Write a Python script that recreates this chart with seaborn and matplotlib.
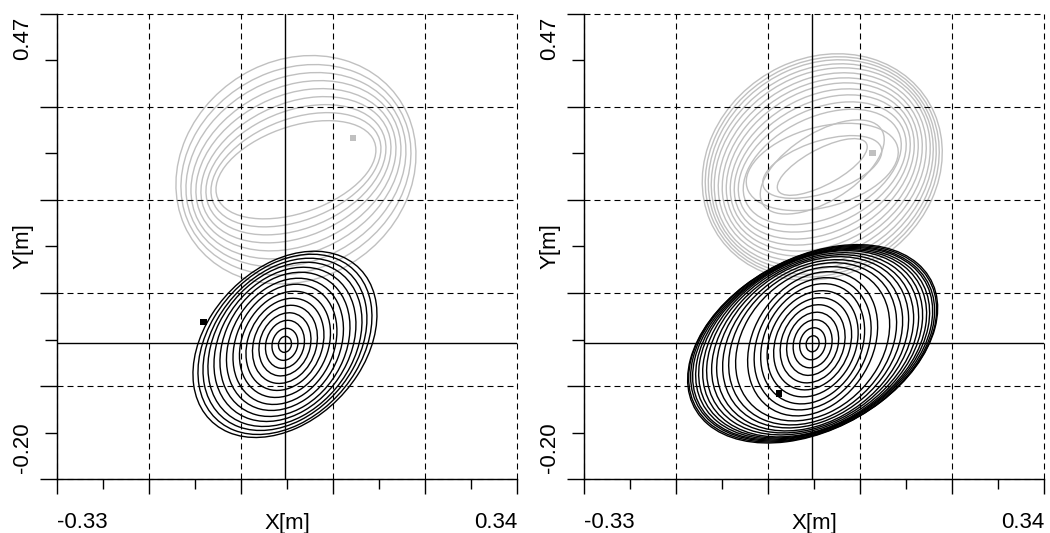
import numpy as np
import pandas as pd
import matplotlib
matplotlib.use("Agg")
import matplotlib.pyplot as plt
from matplotlib.patches import Ellipse
from matplotlib.transforms import ScaledTranslation
import seaborn as sns

# Axis ranges / ticks
X_MAJOR = [-0.33, -0.196, -0.062, 0.072, 0.206, 0.34]
X_MINOR = [-0.263, -0.129, 0.005, 0.139, 0.273]
X_LABELS = ["-0.33", "", "", "", "", "0.34"]
Y_MAJOR = [-0.28375, -0.11625, 0.05125, 0.21875, 0.38625, 0.55375]
Y_MINOR = [-0.20, -0.0325, 0.135, 0.3025, 0.47]
Y_LABELS = ["-0.20", "", "", "", "0.47"]

# crosshair (mean position)
CROSS_X = 0.002
CROSS_Y = -0.039

# Each trace = a set of loops; per loop: x amplitude [m], y amplitude [m], x/y correlation
# left panel, gray trace
L_GRAY_CENTER = (0.018, 0.273)
L_GRAY_AX = [0.1165, 0.1238, 0.1311, 0.1384, 0.1457, 0.1529, 0.1602, 0.1675, 0.1748]
L_GRAY_AY = [0.0883, 0.1027, 0.1171, 0.1315, 0.1459, 0.1603, 0.1748, 0.1892, 0.2054]
L_GRAY_RHO = [0.40, 0.37, 0.33, 0.30, 0.26, 0.23, 0.19, 0.16, 0.13]
L_GRAY_START = (0.101, 0.330)

# left panel, black trace
L_BLACK_CENTER = (0.002, -0.041)
L_BLACK_AX = [0.0095, 0.0189, 0.0284, 0.0379, 0.0473, 0.0568, 0.0663, 0.0757,
              0.0852, 0.0947, 0.1034, 0.1122, 0.1194, 0.1267, 0.1340]
L_BLACK_AY = [0.0144, 0.0288, 0.0432, 0.0568, 0.0703, 0.0829, 0.0955, 0.1081,
              0.1189, 0.1297, 0.1387, 0.1477, 0.1549, 0.1621, 0.1675]
L_BLACK_RHO = [0.10, 0.12, 0.14, 0.16, 0.18, 0.20, 0.21, 0.22,
               0.23, 0.24, 0.26, 0.28, 0.30, 0.31, 0.32]
L_BLACK_START = (-0.117, -0.001)

# right panel, gray trace
R_GRAY_CENTER = (0.017, 0.278)
R_GRAY_AX = [0.0655, 0.0867, 0.0903, 0.1107, 0.1151, 0.1223, 0.1282, 0.1340,
             0.1398, 0.1457, 0.1515, 0.1573, 0.1617, 0.1660, 0.1704, 0.1748]
R_GRAY_AY = [0.0510, 0.0564, 0.0847, 0.0785, 0.1038, 0.1171, 0.1297, 0.1405,
             0.1513, 0.1603, 0.1694, 0.1784, 0.1856, 0.1928, 0.1982, 0.2036]
R_GRAY_RHO = [0.71, 0.50, 0.58, 0.34, 0.38, 0.34, 0.31, 0.28,
              0.25, 0.23, 0.21, 0.19, 0.17, 0.15, 0.14, 0.13]
R_GRAY_START = (0.090, 0.303)

# right panel, black trace
R_BLACK_CENTER = (0.003, -0.040)
R_BLACK_AX = [0.0095, 0.0189, 0.0284, 0.0379, 0.0473, 0.0568, 0.0663, 0.0757,
              0.0852, 0.0947, 0.1122, 0.1223, 0.1311, 0.1398, 0.1471, 0.1544,
              0.1602, 0.1660, 0.1704, 0.1748, 0.1777, 0.1806, 0.1821]
R_BLACK_AY = [0.0144, 0.0288, 0.0432, 0.0568, 0.0703, 0.0829, 0.0955, 0.1081,
              0.1189, 0.1297, 0.1387, 0.1459, 0.1513, 0.1567, 0.1603, 0.1639,
              0.1675, 0.1693, 0.1712, 0.1730, 0.1748, 0.1766, 0.1784]
R_BLACK_RHO = [0.10, 0.12, 0.14, 0.16, 0.18, 0.20, 0.21, 0.22,
               0.23, 0.24, 0.25, 0.26, 0.27, 0.28, 0.29, 0.30,
               0.31, 0.32, 0.33, 0.34, 0.34, 0.35, 0.36]
R_BLACK_START = (-0.046, -0.129)

GRAY = "#c0c0c0"


def add_loops(ax, center, amp_x, amp_y, rho, color, z):
    # turn amplitude/correlation of each loop into an ellipse
    for a, b, r in zip(amp_x, amp_y, rho):
        cov = np.array([[a * a, r * a * b], [r * a * b, b * b]])
        vals, vecs = np.linalg.eigh(cov)
        ang = np.degrees(np.arctan2(vecs[1, 1], vecs[0, 1]))
        ax.add_patch(Ellipse(center, 2 * np.sqrt(vals[1]), 2 * np.sqrt(vals[0]),
                             angle=ang, fill=False, ec=color, lw=1.0, zorder=z))


def style_axes(ax):
    ax.set_xlim(X_MAJOR[0], X_MAJOR[-1])
    ax.set_ylim(Y_MAJOR[0], Y_MAJOR[-1])
    ax.set_xticks(X_MAJOR, labels=X_LABELS)
    ax.set_xticks(X_MINOR, minor=True)
    ax.set_yticks(Y_MAJOR, labels=[""] * len(Y_MAJOR))
    ax.set_yticks(Y_MINOR, labels=Y_LABELS, minor=True)

    ax.tick_params(axis="x", which="major", direction="out", length=10.8, width=1,
                   pad=13, labelsize=16, color="black", labelcolor="black", bottom=True)
    ax.tick_params(axis="x", which="minor", direction="out", length=7.2, width=1,
                   color="black", bottom=True)
    ax.tick_params(axis="y", which="major", direction="out", length=12.2, width=1,
                   color="black", left=True)
    ax.tick_params(axis="y", which="minor", direction="out", length=8.6, width=1,
                   pad=8.6, labelsize=16, labelrotation=90, color="black",
                   labelcolor="black", left=True)

    xl = ax.get_xticklabels()
    xl[0].set_ha("left")
    xl[-1].set_ha("right")
    yl = ax.get_yticklabels(minor=True)
    yl[0].set_va("top")
    yl[0].set_transform(yl[0].get_transform()
                        + ScaledTranslation(0, 0.10, ax.figure.dpi_scale_trans))
    yl[-1].set_va("bottom")

    ax.grid(True, which="major", color="black", linestyle=(0, (5.4, 3.6)), linewidth=0.8)
    ax.set_axisbelow(False)
    # keep the dashed lines on the top and right limits whole
    for gl in ax.get_xgridlines() + ax.get_ygridlines():
        gl.set_clip_on(False)
    for s in ["top", "right"]:
        ax.spines[s].set_visible(False)
    for s in ["left", "bottom"]:
        ax.spines[s].set_color("black")
        ax.spines[s].set_linewidth(1)

    ax.set_xlabel("X[m]", fontsize=16, color="black")
    ax.set_ylabel("Y[m]", fontsize=16, color="black")
    ax.xaxis.set_label_coords(0.5, -0.072)
    ax.yaxis.set_label_coords(-0.052, 0.5)

    ax.axvline(CROSS_X, color="black", lw=1, zorder=4)
    ax.axhline(CROSS_Y, color="black", lw=1, zorder=4)


sns.set_style("ticks")
plt.rcParams["font.family"] = ["Liberation Sans", "DejaVu Sans"]
plt.rcParams["text.color"] = "black"

fig = plt.figure(figsize=(10.5, 5.33), dpi=100)
ax1 = fig.add_axes([0.0543, 0.1007, 0.4381, 0.8737])
ax2 = fig.add_axes([0.5562, 0.1007, 0.4381, 0.8737])

panels = [
    (ax1, (L_GRAY_CENTER, L_GRAY_AX, L_GRAY_AY, L_GRAY_RHO, L_GRAY_START),
     (L_BLACK_CENTER, L_BLACK_AX, L_BLACK_AY, L_BLACK_RHO, L_BLACK_START)),
    (ax2, (R_GRAY_CENTER, R_GRAY_AX, R_GRAY_AY, R_GRAY_RHO, R_GRAY_START),
     (R_BLACK_CENTER, R_BLACK_AX, R_BLACK_AY, R_BLACK_RHO, R_BLACK_START)),
]

for ax, gray, black in panels:
    add_loops(ax, gray[0], gray[1], gray[2], gray[3], GRAY, 1)
    add_loops(ax, black[0], black[1], black[2], black[3], "black", 2)
    starts = pd.DataFrame({"x": [gray[4][0], black[4][0]],
                           "y": [gray[4][1], black[4][1]],
                           "trace": ["gray", "black"]})
    sns.scatterplot(data=starts, x="x", y="y", hue="trace",
                    palette={"gray": GRAY, "black": "black"},
                    marker="s", s=22, linewidth=0, legend=False, ax=ax, zorder=3)
    style_axes(ax)

fig.savefig("out.png", dpi=100)
